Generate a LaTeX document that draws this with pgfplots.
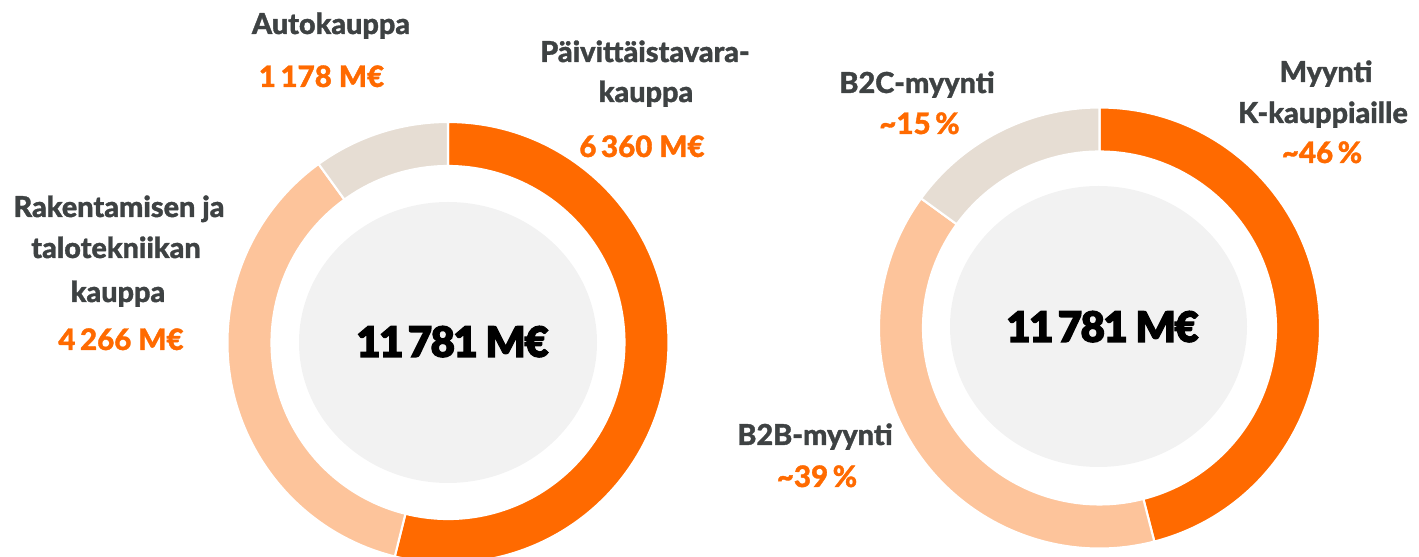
\documentclass[border=0pt]{standalone}
\usepackage{fontspec}
\setmainfont{Lato}[BoldFont={Lato Heavy}, BoldFeatures={FakeBold=1.2}]
\newfontfamily\heavy{Lato Black}[LetterSpace=-4, FakeBold=2.5]
\usepackage{pgfplots}
\usepackage{pgfplotstable}
\pgfplotsset{compat=1.18}

\definecolor{kor}{HTML}{FF6A00}
\definecolor{kpeach}{HTML}{FDC49B}
\definecolor{kbeige}{HTML}{E6DDD3}
\definecolor{kgrey}{HTML}{F2F2F2}
\definecolor{klab}{HTML}{3E4243}

\newcommand\tsp{\kern1.3pt}
\tikzset{
  lab/.style={font=\fontsize{8.2}{10}\selectfont\bfseries, text=klab, anchor=base, inner sep=0pt},
  val/.style={font=\fontsize{8.4}{10}\selectfont\bfseries, text=kor, anchor=base, inner sep=0pt},
  tot/.style={font=\fontsize{12}{14}\selectfont\heavy, anchor=base, inner sep=0pt},
}

% left donut: sales by business, M EUR
\pgfplotstableread{
seg value
paivittaistavara 6360
rakentaminen 4266
autokauppa 1178
}\kauppa
% right donut: share of sales, %
\pgfplotstableread{
seg value
kkauppiaat 46
b2b 39
b2c 15
}\myynti

% annular sector, centre (#1,#2), from angle #3 to #4 (clockwise)
\newcommand\seg[5]{%
  \fill[#5,draw=white,line width=0.6pt]
    (axis cs:{#1+220.5*cos(#3)},{#2+220.5*sin(#3)})
    arc[start angle=#3,end angle=#4,radius=2.205cm]
    -- (axis cs:{#1+176.5*cos(#4)},{#2+176.5*sin(#4)})
    arc[start angle=#4,end angle=#3,radius=1.765cm] -- cycle;}

\begin{document}
\begin{tikzpicture}
\pgfplotstablegetelem{0}{value}\of\kauppa \let\ka\pgfplotsretval
\pgfplotstablegetelem{1}{value}\of\kauppa \let\kb\pgfplotsretval
\pgfplotstablegetelem{2}{value}\of\kauppa \let\kc\pgfplotsretval
\pgfmathsetmacro\ksum{\ka+\kb+\kc}
\pgfmathsetmacro\kA{90-360*(\ka/\ksum)}
\pgfmathsetmacro\kB{\kA-360*(\kb/\ksum)}
\pgfplotstablegetelem{0}{value}\of\myynti \let\ma\pgfplotsretval
\pgfplotstablegetelem{1}{value}\of\myynti \let\mb\pgfplotsretval
\pgfplotstablegetelem{2}{value}\of\myynti \let\mc\pgfplotsretval
\pgfmathsetmacro\msum{\ma+\mb+\mc}
\pgfmathsetmacro\mA{90-360*(\ma/\msum)}
\pgfmathsetmacro\mB{\mA-360*(\mb/\msum)}
\begin{axis}[
  at={(0,0)}, anchor=south west,
  width=14.19cm, height=5.57cm, scale only axis,
  xmin=0, xmax=1419, ymin=0, ymax=557,
  hide axis, clip=true,
]
% left donut
\seg{448}{214.5}{90}{\kA}{kor}
\seg{448}{214.5}{\kA}{\kB}{kpeach}
\seg{448}{214.5}{\kB}{-270}{kbeige}
\fill[kgrey] (axis cs:448,214.5) ellipse[x radius=1.49cm, y radius=1.405cm];
\node[tot] at (axis cs:452.5,200) {11\kern1.2pt781\kern2.2pt M€};
% right donut
\seg{1099.5}{229}{90}{\mA}{kor}
\seg{1099.5}{229}{\mA}{\mB}{kpeach}
\seg{1099.5}{229}{\mB}{-270}{kbeige}
\fill[kgrey] (axis cs:1098.5,230.5) ellipse[x radius=1.485cm, y radius=1.405cm];
\node[tot] at (axis cs:1102.5,215) {11\kern1.2pt781\kern2.2pt M€};
% labels
\node[lab] at (axis cs:331,523) {Autokauppa};
\node[val] at (axis cs:321.5,470) {1\tsp178 M€};
\node[lab] at (axis cs:645,495) {Päivittäistavara-};
\node[lab] at (axis cs:646,455) {kauppa};
\node[val] at (axis cs:642,400) {6\tsp360 M€};
\node[lab] at (axis cs:119,340) {Rakentamisen ja};
\node[lab] at (axis cs:116,299) {talotekniikan};
\node[lab] at (axis cs:118,255) {kauppa};
\node[val] at (axis cs:121,207) {4\tsp266 M€};
\node[lab] at (axis cs:917,464) {B2C-myynti};
\node[val] at (axis cs:919.5,423) {\textasciitilde15\tsp\%};
\node[lab] at (axis cs:1326,475) {Myynti};
\node[lab] at (axis cs:1323,434) {K-kauppiaille};
\node[val] at (axis cs:1322,394) {\textasciitilde46\tsp\%};
\node[lab] at (axis cs:815,112) {B2B-myynti};
\node[val] at (axis cs:817,70) {\textasciitilde39\tsp\%};
\end{axis}
\pgfresetboundingbox
\path (0,0) rectangle (14.19cm,5.57cm);
\end{tikzpicture}
\end{document}
